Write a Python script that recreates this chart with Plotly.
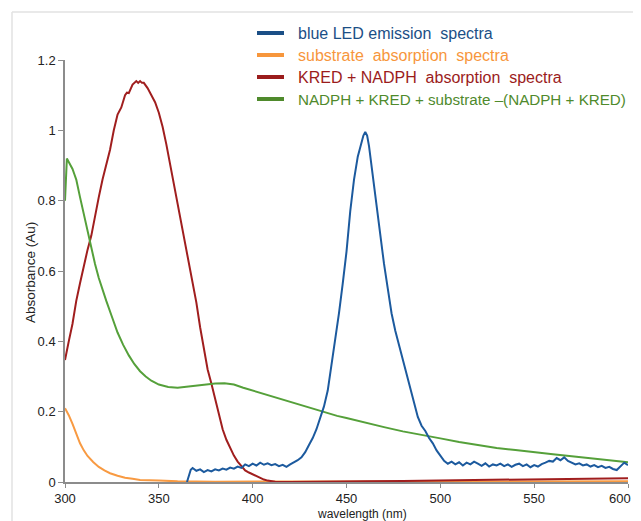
import plotly.graph_objects as go

# ---------------- data ----------------
blue_wl = [365, 366, 367, 368, 370, 372, 374, 376, 378, 380, 382, 384, 386, 388, 390, 392, 394, 396, 398,
           400, 402, 404, 406, 408, 410, 412, 414, 416, 418, 420, 422, 424, 426, 428, 430, 432, 434, 436, 438,
           440, 442, 444, 446, 448, 450, 452, 454, 456, 458, 459, 460, 461, 462, 464, 466, 468, 470, 472, 474,
           476, 478, 480, 482, 484, 486, 488, 490, 492, 494, 496, 498, 500, 502, 504, 506, 508, 510, 512, 514,
           516, 518, 520, 522, 524, 526, 528, 530, 532, 534, 536, 538, 540, 542, 544, 546, 548, 550, 552, 554,
           556, 558, 560, 562, 564, 566, 568, 570, 572, 574, 576, 578, 580, 582, 584, 586, 588, 590, 592, 594,
           596, 598, 600]
blue_val = [0.0, 0.02, 0.035, 0.04, 0.032, 0.036, 0.028, 0.034, 0.03, 0.036, 0.033, 0.038, 0.035, 0.041, 0.038,
            0.044, 0.04, 0.05, 0.045, 0.052, 0.047, 0.055, 0.049, 0.053, 0.048, 0.051, 0.045, 0.049, 0.043, 0.05,
            0.055, 0.062, 0.07, 0.085, 0.105, 0.125, 0.15, 0.18, 0.215, 0.26, 0.33, 0.4, 0.48, 0.565, 0.655, 0.77,
            0.86, 0.925, 0.97, 0.985, 0.995, 0.985, 0.955, 0.87, 0.795, 0.70, 0.62, 0.55, 0.48, 0.43, 0.39, 0.345,
            0.305, 0.27, 0.225, 0.185, 0.16, 0.145, 0.125, 0.11, 0.09, 0.075, 0.06, 0.052, 0.058, 0.05, 0.056, 0.047,
            0.055, 0.05, 0.058, 0.052, 0.046, 0.053, 0.044, 0.05, 0.047, 0.052, 0.045, 0.05, 0.043, 0.049, 0.052,
            0.045, 0.05, 0.042, 0.048, 0.044, 0.051, 0.055, 0.06, 0.058, 0.068, 0.062, 0.07, 0.06, 0.055, 0.05,
            0.053, 0.047, 0.05, 0.044, 0.048, 0.042, 0.046, 0.04, 0.043, 0.037, 0.034, 0.045, 0.055, 0.048]

orange_wl = [300, 302, 304, 306, 308, 310, 312, 315, 318, 321, 324, 328, 332, 336, 340, 350, 360, 380, 400,
             450, 500, 550, 600]
orange_val = [0.21, 0.19, 0.165, 0.135, 0.11, 0.09, 0.074, 0.057, 0.043, 0.033, 0.025, 0.018, 0.012, 0.009,
              0.006, 0.004, 0.002, 0.001, 0.001, 0.001, 0.002, 0.002, 0.002]

red_wl = [300, 301, 302, 304, 306, 308, 310, 312, 314, 316, 318, 320, 322, 324, 326, 328, 330, 332, 333, 334,
          336, 338, 339, 340, 341, 342, 344, 346, 348, 350, 352, 354, 356, 358, 360, 362, 364, 366, 368, 370,
          372, 374, 376, 378, 380, 382, 384, 386, 388, 390, 392, 394, 396, 398, 400, 402, 404, 406, 408, 410,
          412, 420, 440, 460, 480, 500, 520, 540, 560, 580, 600]
red_val = [0.347, 0.38, 0.40, 0.45, 0.515, 0.565, 0.615, 0.66, 0.70, 0.76, 0.81, 0.86, 0.905, 0.945, 1.0, 1.045,
           1.065, 1.10, 1.107, 1.106, 1.13, 1.14, 1.135, 1.14, 1.135, 1.135, 1.12, 1.10, 1.08, 1.05, 1.01, 0.96,
           0.905, 0.85, 0.795, 0.74, 0.68, 0.62, 0.565, 0.51, 0.44, 0.38, 0.32, 0.28, 0.235, 0.19, 0.15, 0.12,
           0.095, 0.075, 0.058, 0.044, 0.033, 0.027, 0.022, 0.016, 0.011, 0.007, 0.004, 0.002, 0.001, 0.0, 0.0,
           0.002, 0.003, 0.004, 0.006, 0.008, 0.009, 0.010, 0.011]

green_wl = [300, 301, 302, 303, 304, 305, 306, 308, 310, 312, 314, 316, 318, 320, 322, 325, 328, 331, 334, 337,
            340, 343, 346, 350, 355, 360, 365, 370, 375, 380, 385, 390, 395, 400, 405, 410, 415, 420, 425, 430,
            435, 440, 445, 450, 455, 460, 470, 480, 490, 500, 510, 520, 530, 540, 550, 560, 570, 580, 590, 600]
green_val = [0.80, 0.92, 0.91, 0.90, 0.89, 0.875, 0.86, 0.81, 0.76, 0.715, 0.665, 0.62, 0.58, 0.545, 0.515, 0.47,
             0.425, 0.39, 0.36, 0.335, 0.315, 0.30, 0.288, 0.277, 0.27, 0.268, 0.271, 0.275, 0.277, 0.28, 0.281,
             0.277, 0.268, 0.26, 0.252, 0.244, 0.236, 0.228, 0.22, 0.211, 0.202, 0.195, 0.188, 0.182, 0.175, 0.168,
             0.156, 0.144, 0.133, 0.124, 0.114, 0.105, 0.097, 0.091, 0.086, 0.079, 0.073, 0.067, 0.062, 0.056]

series_names = ["blue LED emission  spectra", "substrate  absorption  spectra",
                "KRED + NADPH  absorption  spectra", "NADPH + KRED + substrate \u2013(NADPH + KRED)"]
legend_sizes = [16, 16, 16, 15.2]
line_colors = ["#1c5a9e", "#f89a42", "#a01e1e", "#55a03a"]
legend_colors = ["#1b4f86", "#f7963c", "#9b1c1c", "#4f8a2c"]

x_ticks = [300, 350, 400, 450, 500, 550, 600]
x_tick_text = ["300", "350", "400", "450", "500", "550", "600"]
y_ticks = [0, 0.2, 0.4, 0.6, 0.8, 1, 1.2]
y_tick_text = ["0", "0.2", "0.4", "0.6", "0.8", "1", "1.2"]

# ---------------- figure ----------------
OFF = 8                      # page body margin of the browser
SW, SH = 641, 521            # screenshot size
W, H = SW - 2 * OFF, SH - OFF
L, T = 65 - OFF, 60 - OFF    # plot area in screen px: x 65..628, y 60..482
pw, ph = 563, 422
R, B = W - L - pw, H - T - ph


def px_x(p):                 # screen px -> paper x
    return (p - OFF - L) / pw


def px_y(p):                 # screen px -> paper y
    return (T + ph - (p - OFF)) / ph


fig = go.Figure()
order = [1, 2, 3, 0]
all_wl = [blue_wl, orange_wl, red_wl, green_wl]
all_val = [blue_val, orange_val, red_val, green_val]
for i in order:
    fig.add_trace(go.Scatter(x=all_wl[i], y=all_val[i], mode="lines", name=series_names[i],
                             line=dict(color=line_colors[i], width=2), showlegend=False))

shapes = [
    dict(type="line", xref="paper", yref="paper", x0=px_x(12), x1=px_x(SW + 5), y0=px_y(12), y1=px_y(12),
         line=dict(color="#e2e2e2", width=1.5)),
    dict(type="line", xref="paper", yref="paper", x0=px_x(12), x1=px_x(12), y0=px_y(12), y1=px_y(SH + 5),
         line=dict(color="#e2e2e2", width=1.5)),
]
annotations = []
leg_rows = [33, 55, 77, 99]
for i in range(4):
    shapes.append(dict(type="line", xref="paper", yref="paper", x0=px_x(257), x1=px_x(284),
                       y0=px_y(leg_rows[i]), y1=px_y(leg_rows[i]),
                       line=dict(color=legend_colors[i], width=4)))
    annotations.append(dict(xref="paper", yref="paper", x=px_x(296), y=px_y(leg_rows[i]),
                            xanchor="left", yanchor="middle", showarrow=False,
                            text=series_names[i].replace("  ", "\u00a0\u00a0"),
                            font=dict(family="Liberation Sans, Arial, sans-serif", size=legend_sizes[i],
                                      color=legend_colors[i])))

# last x tick label would be dropped at the page edge: draw it as a right-anchored label
annotations.append(dict(xref="x", yref="paper", x=x_ticks[-1], xshift=5, y=px_y(498), xanchor="right",
                        yanchor="middle", showarrow=False, text=x_tick_text[-1],
                        font=dict(family="Liberation Sans, Arial, sans-serif", size=13, color="#222")))
annotations.append(dict(xref="paper", yref="paper", x=px_x(362), y=px_y(514), xanchor="center",
                        yanchor="middle", showarrow=False, text="wavelength (nm)",
                        font=dict(family="Liberation Sans, Arial, sans-serif", size=12, color="#222")))
annotations.append(dict(xref="paper", yref="paper", x=px_x(30), y=px_y(273), xanchor="center",
                        yanchor="middle", showarrow=False, text="Absorbance (Au)", textangle=-90,
                        font=dict(family="Liberation Sans, Arial, sans-serif", size=13.5, color="#222")))

fig.update_layout(
    width=W, height=H,
    margin=dict(l=L, r=R, t=T, b=B, pad=0),
    paper_bgcolor="white", plot_bgcolor="white",
    shapes=shapes, annotations=annotations,
    font=dict(family="Liberation Sans, Arial, sans-serif", size=13, color="#222"),
    xaxis=dict(range=[300, 600], tickvals=x_ticks, ticktext=x_tick_text[:-1] + [""],
               showgrid=False, zeroline=False,
               showline=True, linecolor="#8c8c8c", linewidth=1.5, ticks="outside", ticklen=4,
               tickcolor="#8c8c8c", tickfont=dict(size=13, color="#222")),
    yaxis=dict(range=[0, 1.2], tickvals=y_ticks, ticktext=y_tick_text, showgrid=False, zeroline=False,
               showline=True, linecolor="#8c8c8c", linewidth=1.5, ticks="outside", ticklen=5,
               tickcolor="#8c8c8c", tickfont=dict(size=13, color="#222")),
)

fig.write_html("out.html")
